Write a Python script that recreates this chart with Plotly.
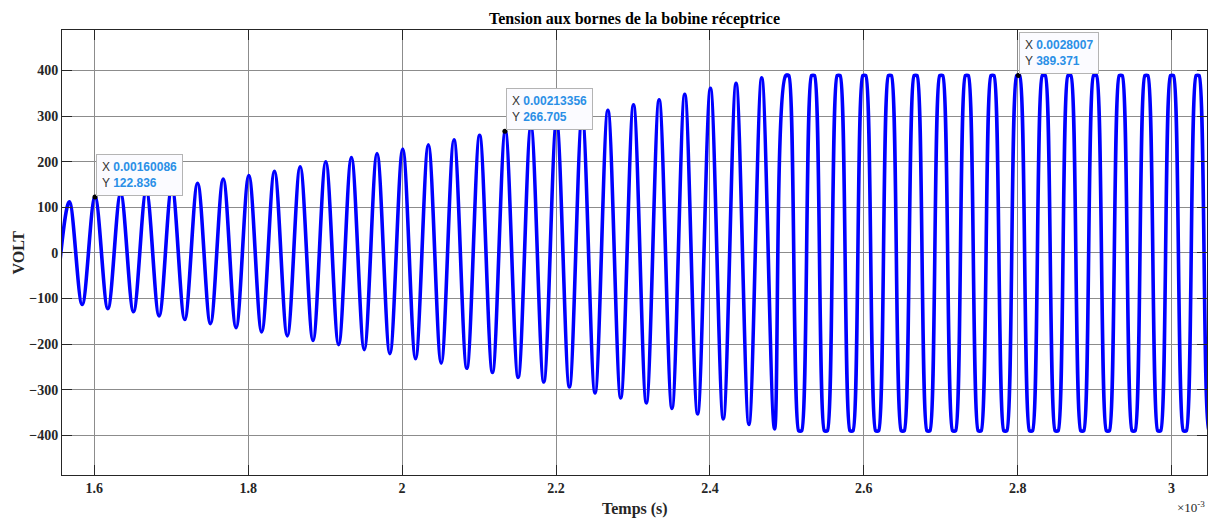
import plotly.graph_objects as go

# Extremum times of the waveform, in units of 1e-3 s
t_ms = [
    1.5508, 1.5675, 1.5842, 1.6009, 1.6176, 1.6342, 1.6509, 1.6675, 1.6842, 1.7008,
    1.7175, 1.7342, 1.7509, 1.7675, 1.7842, 1.8008, 1.8175, 1.8341, 1.8508, 1.8675,
    1.8842, 1.9008, 1.9175, 1.9341, 1.9508, 1.9674, 1.9841, 2.0008, 2.0175, 2.0341,
    2.0508, 2.0674, 2.0841, 2.1007, 2.1174, 2.1341, 2.1508, 2.1674, 2.1841, 2.2007,
    2.2174, 2.2340, 2.2507, 2.2674, 2.2841, 2.3007, 2.3174, 2.3340, 2.3507, 2.3673,
    2.3840, 2.4007, 2.4174, 2.4340, 2.4507, 2.4673, 2.4840,
    2.4986, 2.5026, 2.5153, 2.5193, 2.5320, 2.5360, 2.5487, 2.5527,
    2.5653, 2.5693, 2.5820, 2.5860, 2.5986, 2.6026, 2.6153, 2.6193,
    2.6319, 2.6359, 2.6486, 2.6526, 2.6653, 2.6693, 2.6820, 2.6860,
    2.6986, 2.7026, 2.7153, 2.7193, 2.7319, 2.7359, 2.7486, 2.7526,
    2.7652, 2.7692, 2.7819, 2.7859, 2.7986, 2.8026, 2.8153, 2.8193,
    2.8319, 2.8359, 2.8486, 2.8526, 2.8652, 2.8692, 2.8819, 2.8859,
    2.8985, 2.9025, 2.9152, 2.9192, 2.9319, 2.9359, 2.9486, 2.9526,
    2.9652, 2.9692, 2.9819, 2.9859, 2.9985, 3.0025, 3.0152, 3.0192,
    3.0318, 3.0358, 3.0485, 3.0525,
]

# Voltage at those times (V)
volt = [
    -100, 112, -113, 123, -122, 130, -129, 137, -138, 145,
    -146, 153, -155, 162, -164, 170, -173, 179, -182, 189,
    -192, 200, -201, 209, -212, 218, -221, 228, -232, 237,
    -242, 248, -253, 258, -262, 267, -273, 277, -283, 289,
    -294, 301, -307, 313, -318, 325, -329, 336, -341, 348,
    -353, 361, -364, 372, -376, 384, -386,
    389, 389, -390, -390, 389, 389, -390, -390,
    389, 389, -390, -390, 389, 389, -390, -390,
    389, 389, -390, -390, 389, 389, -390, -390,
    389, 389, -390, -390, 389, 389, -390, -390,
    389, 389, -390, -390, 389, 389, -390, -390,
    389, 389, -390, -390, 389, 389, -390, -390,
    389, 389, -390, -390, 389, 389, -390, -390,
    389, 389, -390, -390, 389, 389, -390, -390,
    389, 389, -390, -390,
]

# index of the first saturated (flat-top) point
clip_start = 57

# Data tips
tip_x = [0.00160086, 0.00213356, 0.0028007]
tip_y = [122.836, 266.705, 389.371]
tip_x_text = ["0.00160086", "0.00213356", "0.0028007"]
tip_y_text = ["122.836", "266.705", "389.371"]

x_ticks = [1.6, 1.8, 2.0, 2.2, 2.4, 2.6, 2.8, 3.0]
x_tick_text = ["1.6", "1.8", "2", "2.2", "2.4", "2.6", "2.8", "3"]
y_ticks = [-400, -300, -200, -100, 0, 100, 200, 300, 400]

SERIF = "Liberation Serif, Times New Roman, serif"
SANS = "Liberation Sans, Arial, sans-serif"

fig = go.Figure()
# growing (sinusoidal) part, ending on the first flat top
fig.add_trace(go.Scatter(
    x=t_ms[:clip_start + 2], y=volt[:clip_start + 2], mode="lines",
    line=dict(color="#0000ff", width=3.6, shape="spline", smoothing=1.0),
    hoverinfo="skip", showlegend=False,
))
# saturated part (flat tops at about +/-390 V)
fig.add_trace(go.Scatter(
    x=t_ms[clip_start:], y=volt[clip_start:], mode="lines",
    line=dict(color="#0000ff", width=3.6, shape="spline", smoothing=0.55),
    hoverinfo="skip", showlegend=False,
))
fig.add_trace(go.Scatter(
    x=[v * 1e3 for v in tip_x], y=tip_y, mode="markers",
    marker=dict(color="black", size=5),
    hoverinfo="skip", showlegend=False,
))

for xs, ys, xt, yt in zip(tip_x, tip_y, tip_x_text, tip_y_text):
    fig.add_annotation(
        x=xs * 1e3, y=ys, xref="x", yref="y",
        xanchor="left", yanchor="bottom", xshift=1, yshift=1,
        showarrow=False, align="left",
        text=(f"X <b><span style='color:#2a8fe6'>{xt}</span></b><br>"
              f"Y <b><span style='color:#2a8fe6'>{yt}</span></b>"),
        font=dict(family=SANS, size=12, color="#333333"),
        bgcolor="#fbfbff", bordercolor="#b4b4b4", borderwidth=1, borderpad=5,
    )

fig.add_annotation(
    x=0.5, y=-0.0764, xref="paper", yref="paper", showarrow=False,
    text="<b>Temps (s)</b>", xanchor="center", yanchor="middle",
    font=dict(family=SERIF, size=16, color="#262626"),
)
fig.add_annotation(
    x=-0.0384, y=0.5, xref="paper", yref="paper", showarrow=False,
    text="<b>VOLT</b>", textangle=-90, xanchor="center", yanchor="middle",
    font=dict(family=SERIF, size=16, color="#262626"),
)
fig.add_annotation(
    x=1.0, y=-0.072, xref="paper", yref="paper", showarrow=False,
    text="×10<sup>-3</sup>", xanchor="right", yanchor="middle",
    font=dict(family=SERIF, size=13, color="#262626"),
)

fig.update_layout(
    width=1211, height=518,
    margin=dict(l=62, r=4, t=30, b=43),
    paper_bgcolor="white", plot_bgcolor="white",
    title=dict(
        text="<b>Tension aux bornes de la bobine réceptrice</b>",
        x=0.5, xref="paper", y=1 - 18 / 518, yref="container",
        xanchor="center", yanchor="middle",
        font=dict(family=SERIF, size=16, color="black"),
    ),
    xaxis=dict(
        range=[1.558, 3.046], tickvals=x_ticks, ticktext=x_tick_text,
        showgrid=True, gridcolor="#8c8c8c", gridwidth=1,
        showline=True, linecolor="#262626", linewidth=1, mirror="allticks",
        ticks="inside", ticklen=10, tickcolor="#262626",
        tickfont=dict(family=SERIF, size=14, color="#262626", weight="bold"),
        zeroline=False,
    ),
    yaxis=dict(
        range=[-487, 489], tickvals=y_ticks,
        showgrid=True, gridcolor="#8c8c8c", gridwidth=1,
        showline=True, linecolor="#262626", linewidth=1, mirror="allticks",
        ticks="inside", ticklen=10, tickcolor="#262626",
        tickfont=dict(family=SERIF, size=14, color="#262626", weight="bold"),
        zeroline=False,
    ),
)

fig.write_html("out.html")
